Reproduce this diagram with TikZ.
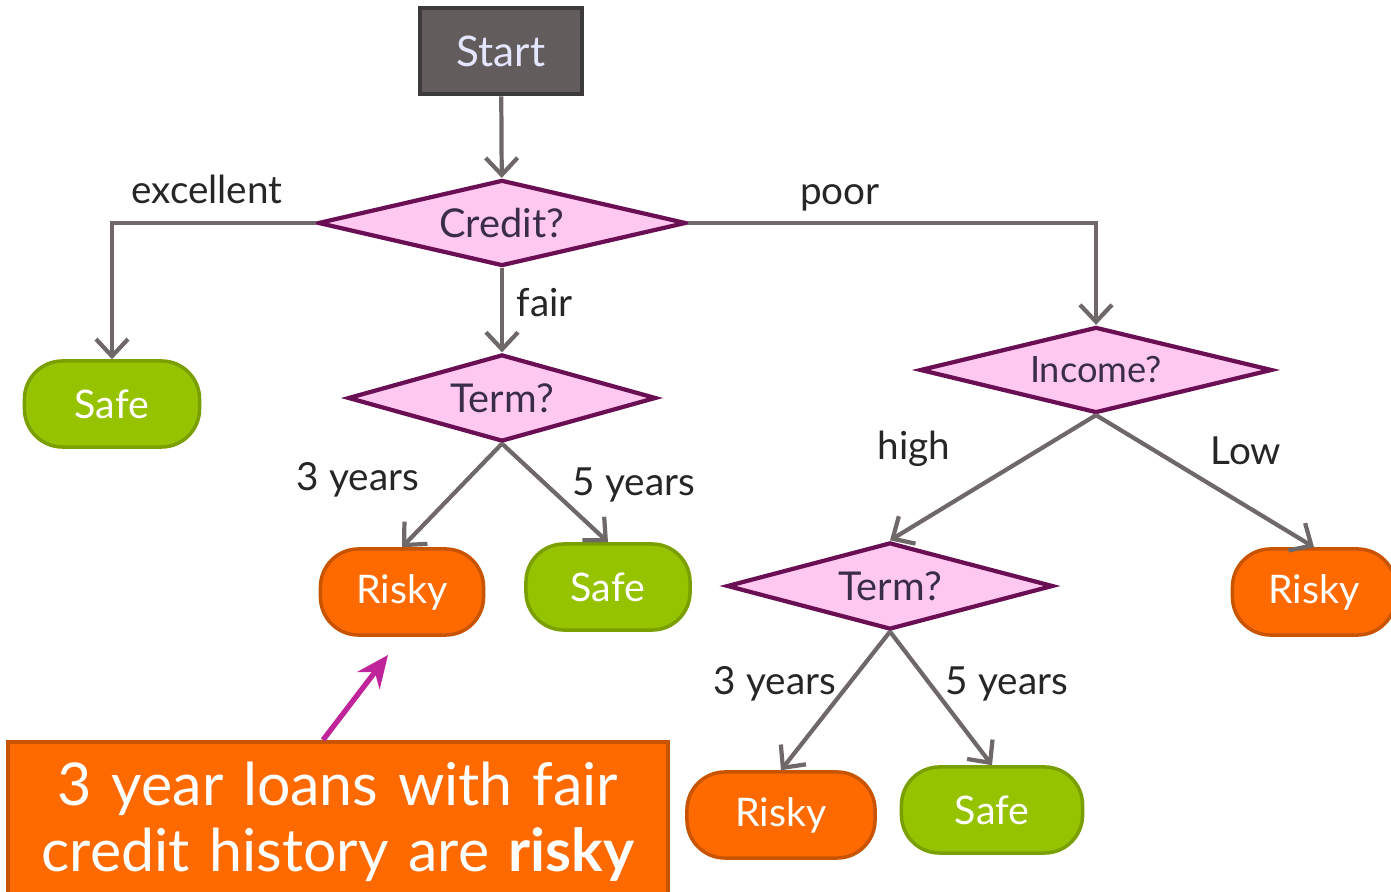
\documentclass[tikz,border=0pt]{standalone}
\usepackage{fontspec}
\setmainfont{Lato}
\usepackage{xcolor}
\usepackage{tikz}
\usetikzlibrary{arrows.meta,positioning,shapes.geometric}

\definecolor{edgegray}{HTML}{6E6868}
\definecolor{startfill}{HTML}{635C5C}
\definecolor{startline}{HTML}{3C3A3A}
\definecolor{testfill}{HTML}{FFC8F0}
\definecolor{testline}{HTML}{6B0F55}
\definecolor{testtext}{HTML}{3A2D4A}
\definecolor{safefill}{HTML}{96C300}
\definecolor{safeline}{HTML}{7A9F00}
\definecolor{riskyfill}{HTML}{FF6A00}
\definecolor{riskyline}{HTML}{C85400}
\definecolor{pointcol}{HTML}{C0249A}

\begin{document}
\begin{tikzpicture}[
  x=0.01cm, y=-0.01cm,
  font=\fontsize{11}{13}\selectfont,
  startbox/.style={draw=startline, fill=startfill, line width=1.3pt, text=white!90!blue,
    minimum width=1.62cm, minimum height=0.86cm, font=\fontsize{12}{14}\selectfont},
  test/.style={diamond, draw=testline, fill=testfill, line width=1.2pt, text=testtext,
    inner sep=0pt, aspect=4, font=\fontsize{11.3}{13}\selectfont},
  leaf/.style={rectangle, rounded corners=0.38cm, line width=1pt, text=white,
    minimum height=0.86cm, font=\fontsize{11.2}{13}\selectfont},
  safe/.style={leaf, draw=safeline, fill=safefill},
  risky/.style={leaf, draw=riskyline, fill=riskyfill},
  edge/.style={draw=edgegray, line width=1.2pt, -{Straight Barb[length=1.7mm,width=3.2mm]}},
  lbl/.style={text=black!85, font=\fontsize{11}{13}\selectfont},
  note/.style={draw=riskyline, fill=riskyfill, line width=1.1pt, text=white, align=center,
    inner sep=0pt, text width=6.6cm, font=\fontsize{16.8}{18.6}\selectfont},
  pointer/.style={draw=pointcol, line width=1.5pt, -{Stealth[length=3.2mm,width=2.8mm]}},
]
\useasboundingbox (0,0) rectangle (1391,892);
% decision nodes
\node[startbox] (start) at (501,51) {Start};
\node[test, minimum width=3.68cm, minimum height=0.86cm] (credit) at (502,223) {Credit?};
\node[test, minimum width=3.08cm, minimum height=0.87cm] (termA) at (502,398) {Term?};
\node[test, minimum width=3.52cm, minimum height=0.86cm, font=\fontsize{10.3}{12}\selectfont]
  (income) at (1096,370) {Income?};
\node[test, minimum width=3.26cm, minimum height=0.87cm] (termB) at (890,586) {Term?};
% leaves
\node[safe, minimum width=1.75cm] (safeA) at (112,404) {Safe};
\node[risky, minimum width=1.63cm] (riskyA) at (402,592) {Risky};
\node[safe, minimum width=1.64cm] (safeB) at (608,587) {Safe};
\node[risky, minimum width=1.63cm] (riskyB) at (1314,592) {Risky};
\node[risky, minimum width=1.88cm] (riskyC) at (781,815) {Risky};
\node[safe, minimum width=1.81cm] (safeC) at (992,810) {Safe};
% branches
\draw[edge] (start) -- (credit);
\draw[edge] (credit.west) -| (safeA.north);
\draw[edge] (credit.south) -- (termA.north);
\draw[edge] (credit.east) -| (income.north);
\draw[edge] (termA.south) -- (riskyA.north);
\draw[edge] (termA.south) -- (safeB.north);
\draw[edge] (income.south) -- (termB.north);
\draw[edge] (income.south) -- (riskyB.north);
\draw[edge] (termB.south) -- (riskyC.north);
\draw[edge] (termB.south) -- (safeC.north);
% branch labels
\node[lbl] (lexc) at (207,189) {excellent};
\node[lbl] (lpoor) at (840,198) {poor};
\node[lbl] (lfair) at (545,303) {fair};
\node[lbl] (lthreeA) at (358,480) {3 years};
\node[lbl] (lfiveA) at (634,485) {5 years};
\node[lbl] (lhigh) at (914,449) {high};
\node[lbl] (llow) at (1246,451) {Low};
\node[lbl] (lthreeB) at (775,684) {3 years};
\node[lbl] (lfiveB) at (1007,684) {5 years};
% callout
\node[note, minimum height=1.6cm] (note) at (338,822)
  {3 year loans with fair\\credit history are \textbf{risky}};
\coordinate (tip) at (388,655);
\draw[pointer] ([xshift=-0.15cm]note.north) -- (tip);
\end{tikzpicture}
\end{document}
